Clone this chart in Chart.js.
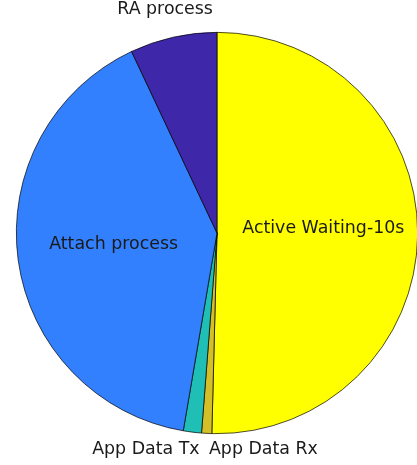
<!DOCTYPE html>
<html>
<head>
<meta charset="utf-8">
<script src="https://cdn.jsdelivr.net/npm/chart.js@4"></script>
<style>
  html, body { margin: 0; padding: 0; background: #fff; overflow: hidden; }
  #wrap { width: 420px; height: 465px; position: relative; }
</style>
</head>
<body>
<div id="wrap"><canvas id="pieChart"></canvas></div>
<script>
// data (percent of time)
const categories = ['Active Waiting-10s', 'App Data Rx', 'App Data Tx', 'Attach process', 'RA process'];
const shares = [50.4, 0.82, 1.46, 40.3, 7.0];

const sliceColors = ['#ffff00', '#d4bf29', '#1fbfb5', '#3380ff', '#3e27a8'];
// label placement: radius factor, alignment and small nudges per slice
const labelRadius = [0.53, 1.07, 1.07, 0.52, 1.14];
const labelAlign = ['center', 'left', 'right', 'center', 'center'];
const labelNudgeX = [0, 3, 9, 0, -2];
const labelNudgeY = [-6, 2, 3, -3, 0];

const sliceLabels = {
    id: 'sliceLabels',
    afterDatasetsDraw(chart) {
        const ctx = chart.ctx;
        const arcs = chart.getDatasetMeta(0).data;
        ctx.save();
        ctx.font = '17.4px "DejaVu Sans", sans-serif';
        ctx.fillStyle = '#1a1a1a';
        ctx.textBaseline = 'middle';
        arcs.forEach((arc, i) => {
            const mid = (arc.startAngle + arc.endAngle) / 2;
            const d = arc.outerRadius * labelRadius[i];
            const x = arc.x + Math.cos(mid) * d + labelNudgeX[i];
            const y = arc.y + Math.sin(mid) * d + labelNudgeY[i];
            ctx.textAlign = labelAlign[i];
            ctx.fillText(categories[i], x, y);
        });
        ctx.restore();
    }
};

document.addEventListener('DOMContentLoaded', function() {
    const ctx = document.getElementById('pieChart').getContext('2d');
    new Chart(ctx, {
        type: 'pie',
        data: {
            labels: categories,
            datasets: [{
                data: shares,
                backgroundColor: sliceColors,
                borderColor: '#000',
                borderWidth: 0.7
            }]
        },
        options: {
            responsive: true,
            maintainAspectRatio: false,
            animation: false,
            layout: { padding: { left: 16, right: 2, top: 32, bottom: 31 } },
            plugins: {
                legend: { display: false },
                tooltip: { enabled: false }
            }
        },
        plugins: [sliceLabels]
    });
});
</script>
</body>
</html>
